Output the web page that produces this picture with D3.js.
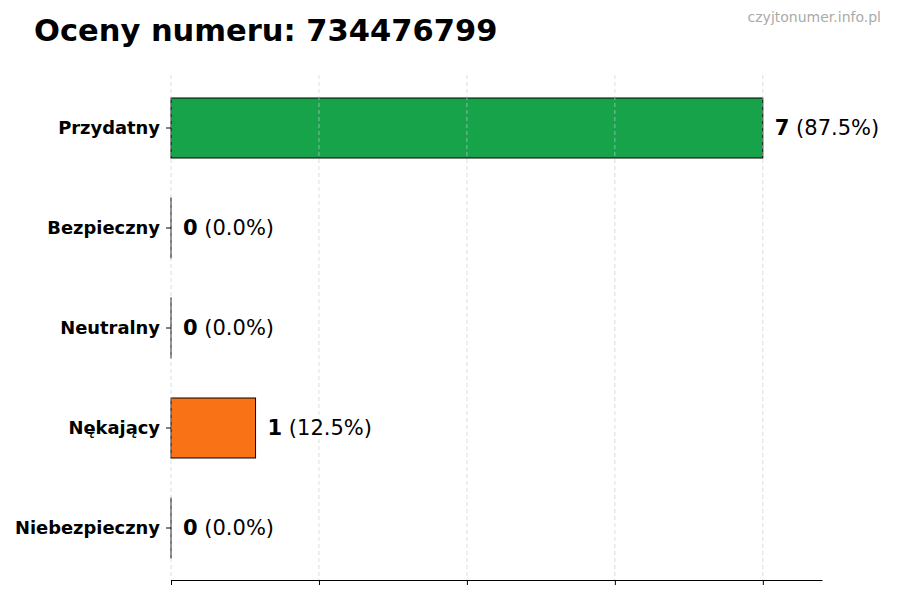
<!DOCTYPE html>
<html>
<head>
<meta charset="utf-8">
<script src="https://d3js.org/d3.v7.min.js"></script>
<style>
  body { margin: 0; background: #fff; }
  svg { font-family: "DejaVu Sans", sans-serif; }
</style>
</head>
<body>
<div id="chart"></div>
<script>
// data
const categories = ["Przydatny", "Bezpieczny", "Neutralny", "Nękający", "Niebezpieczny"];
const counts = [7, 0, 0, 1, 0];
const barColors = ["#16a34a", "#0f766e", "#9ca3af", "#f97316", "#dc2626"];
const xTicks = [0, 1.75, 3.5, 5.25, 7];

const total = d3.sum(counts);
const maxVal = d3.max(counts);

const width = 900, height = 600;
const margin = { top: 75, right: 78, bottom: 20, left: 171 };

const svg = d3.select("#chart").append("svg")
    .attr("width", width)
    .attr("height", height);

// title + watermark
svg.append("text")
    .attr("x", 34).attr("y", 41)
    .attr("font-size", 30.5).attr("font-weight", "bold")
    .attr("fill", "#000")
    .text("Oceny numeru: 734476799");

svg.append("text")
    .attr("x", 881).attr("y", 22)
    .attr("text-anchor", "end")
    .attr("font-size", 14).attr("fill", "#aaaaaa")
    .text("czyjtonumer.info.pl");

const xScale = d3.scaleLinear()
    .domain([0, maxVal * 1.1])
    .range([margin.left, width - margin.right]);

const yScale = d3.scaleBand()
    .domain(categories)
    .range([78, 578])
    .paddingInner(0.4)
    .paddingOuter(0.2);

// bars
svg.append("g").selectAll("rect")
    .data(categories)
    .join("rect")
    .attr("x", xScale(0))
    .attr("y", d => yScale(d))
    .attr("width", (d, i) => Math.max(xScale(counts[i]) - xScale(0), 0.01))
    .attr("height", yScale.bandwidth())
    .attr("fill", (d, i) => barColors[i])
    .attr("stroke", "#000")
    .attr("stroke-width", 1);

// grid on top
svg.append("g").selectAll("line")
    .data(xTicks)
    .join("line")
    .attr("x1", d => xScale(d)).attr("x2", d => xScale(d))
    .attr("y1", margin.top).attr("y2", height - margin.bottom)
    .attr("stroke", "#cccccc")
    .attr("stroke-width", 0.8)
    .attr("stroke-dasharray", "4,3")
    .attr("opacity", 0.8);

// x axis (no labels)
const xAxis = svg.append("g")
    .attr("transform", `translate(0,${height - margin.bottom})`)
    .call(d3.axisBottom(xScale).tickValues(xTicks).tickFormat("").tickSize(5).tickSizeOuter(0));
xAxis.select(".domain").attr("stroke", "#000");

// y axis ticks
const yAxis = svg.append("g")
    .attr("transform", `translate(${margin.left},0)`)
    .call(d3.axisLeft(yScale).tickSize(5).tickPadding(6));
yAxis.select(".domain").remove();
yAxis.selectAll("text")
    .attr("font-family", "DejaVu Sans")
    .attr("font-size", 17.9)
    .attr("font-weight", "bold")
    .attr("fill", "#000");

// value labels
const labels = svg.append("g").selectAll("text")
    .data(categories)
    .join("text")
    .attr("x", (d, i) => xScale(counts[i]) + 12)
    .attr("y", d => yScale(d) + yScale.bandwidth() / 2)
    .attr("dy", "0.35em")
    .attr("font-size", 21)
    .attr("fill", "#000");
labels.append("tspan")
    .attr("font-weight", "bold")
    .text((d, i) => counts[i]);
labels.append("tspan")
    .text((d, i) => " (" + (counts[i] / total * 100).toFixed(1) + "%)");
</script>
</body>
</html>
